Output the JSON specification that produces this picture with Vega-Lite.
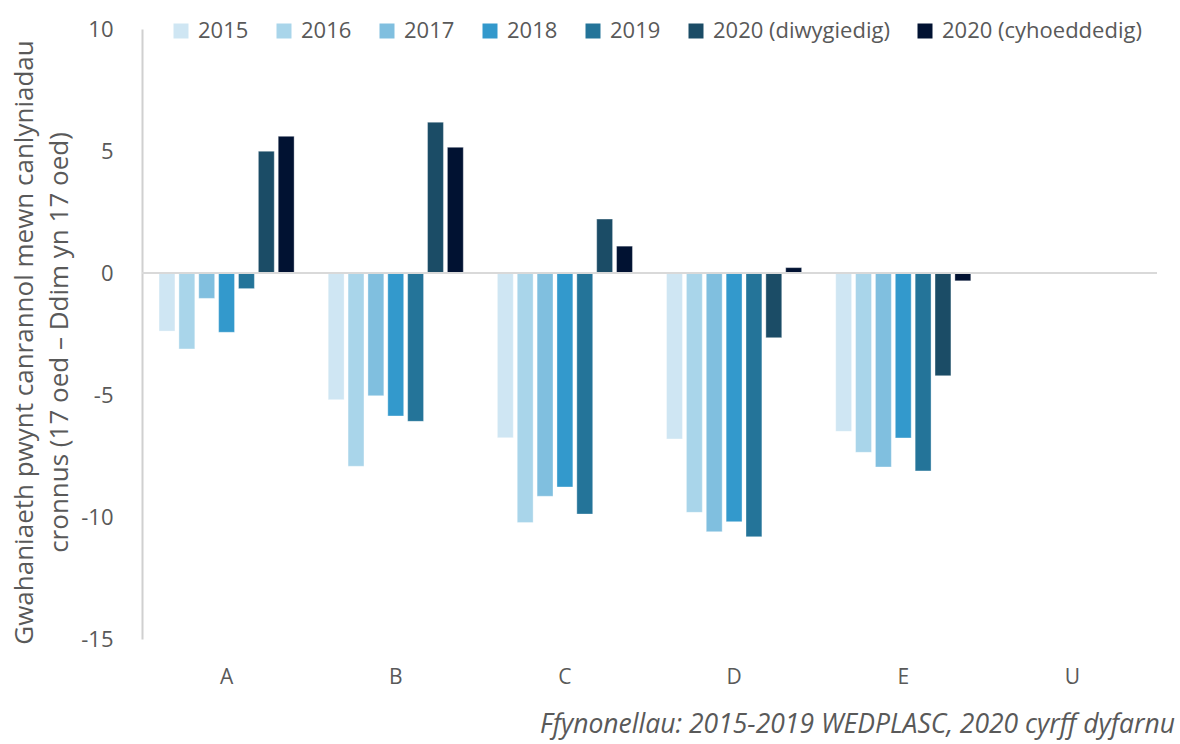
{
  "$schema": "https://vega.github.io/schema/vega-lite/v6.json",
  "autosize": {"type": "none"},
  "width": 1015,
  "height": 610,
  "padding": {"left": 142, "top": 29, "right": 23, "bottom": 105},
  "background": "white",
  "config": {
    "font": "Open Sans",
    "view": {"stroke": null}
  },
  "title": {
    "text": "Ffynonellau: 2015-2019 WEDPLASC, 2020 cyrff dyfarnu",
    "orient": "bottom",
    "anchor": "end",
    "frame": "group",
    "fontSize": 26.5,
    "fontStyle": "italic",
    "fontWeight": "normal",
    "color": "#595959",
    "font": "Open Sans",
    "offset": 25,
    "dx": 18
  },
  "data": {
    "values": [
      {"grade": "A", "series": "2015", "value": -2.38},
      {"grade": "A", "series": "2016", "value": -3.11},
      {"grade": "A", "series": "2017", "value": -1.04},
      {"grade": "A", "series": "2018", "value": -2.43},
      {"grade": "A", "series": "2019", "value": -0.64},
      {"grade": "A", "series": "2020 (diwygiedig)", "value": 4.99},
      {"grade": "A", "series": "2020 (cyhoeddedig)", "value": 5.6},
      {"grade": "B", "series": "2015", "value": -5.19},
      {"grade": "B", "series": "2016", "value": -7.92},
      {"grade": "B", "series": "2017", "value": -5.03},
      {"grade": "B", "series": "2018", "value": -5.86},
      {"grade": "B", "series": "2019", "value": -6.08},
      {"grade": "B", "series": "2020 (diwygiedig)", "value": 6.18},
      {"grade": "B", "series": "2020 (cyhoeddedig)", "value": 5.15},
      {"grade": "C", "series": "2015", "value": -6.75},
      {"grade": "C", "series": "2016", "value": -10.23},
      {"grade": "C", "series": "2017", "value": -9.15},
      {"grade": "C", "series": "2018", "value": -8.77},
      {"grade": "C", "series": "2019", "value": -9.88},
      {"grade": "C", "series": "2020 (diwygiedig)", "value": 2.21},
      {"grade": "C", "series": "2020 (cyhoeddedig)", "value": 1.1},
      {"grade": "D", "series": "2015", "value": -6.8},
      {"grade": "D", "series": "2016", "value": -9.81},
      {"grade": "D", "series": "2017", "value": -10.6},
      {"grade": "D", "series": "2018", "value": -10.19},
      {"grade": "D", "series": "2019", "value": -10.81},
      {"grade": "D", "series": "2020 (diwygiedig)", "value": -2.65},
      {"grade": "D", "series": "2020 (cyhoeddedig)", "value": 0.22},
      {"grade": "E", "series": "2015", "value": -6.49},
      {"grade": "E", "series": "2016", "value": -7.35},
      {"grade": "E", "series": "2017", "value": -7.95},
      {"grade": "E", "series": "2018", "value": -6.76},
      {"grade": "E", "series": "2019", "value": -8.11},
      {"grade": "E", "series": "2020 (diwygiedig)", "value": -4.21},
      {"grade": "E", "series": "2020 (cyhoeddedig)", "value": -0.32}
    ]
  },
  "layer": [
    {
      "mark": {"type": "bar", "stroke": "white", "strokeWidth": 1, "strokeOpacity": 0.35},
      "encoding": {
        "x": {
          "field": "grade",
          "type": "nominal",
          "scale": {"domain": ["A", "B", "C", "D", "E", "U"], "paddingInner": 0.178, "paddingOuter": 0.089},
          "axis": {
            "title": null,
            "labelAngle": 0,
            "domain": false,
            "ticks": false,
            "labelFontSize": 21,
            "labelColor": "#595959",
            "labelPadding": 27,
            "labelFont": "Open Sans"
          }
        },
        "xOffset": {
          "field": "series",
          "type": "nominal",
          "sort": ["2015", "2016", "2017", "2018", "2019", "2020 (diwygiedig)", "2020 (cyhoeddedig)"],
          "scale": {"paddingInner": 0.2, "paddingOuter": 0.1}
        },
        "y": {
          "field": "value",
          "type": "quantitative",
          "scale": {"domain": [-15, 10], "nice": false, "zero": false},
          "axis": {
            "values": [-15, -10, -5, 0, 5, 10],
            "labelExpr": "replace(datum.label, '−', '-')",
            "grid": false,
            "ticks": false,
            "domain": true,
            "domainColor": "#d0d0d0",
            "domainWidth": 2,
            "labelFontSize": 22,
            "labelColor": "#595959",
            "labelPadding": 29,
            "labelFont": "Open Sans",
            "title": ["Gwahaniaeth pwynt canrannol mewn canlyniadau", "cronnus (17 oed – Ddim yn 17 oed)"],
            "titleFontSize": 26,
            "titleFontWeight": "normal",
            "titleColor": "#595959",
            "titleFont": "Open Sans",
            "titleAngle": -90,
            "titleAlign": "center",
            "titleBaseline": "alphabetic",
            "titleLineHeight": 35,
            "titleX": -110,
            "titleY": 313
          }
        },
        "color": {
          "field": "series",
          "type": "nominal",
          "scale": {
            "domain": ["2015", "2016", "2017", "2018", "2019", "2020 (diwygiedig)", "2020 (cyhoeddedig)"],
            "range": ["#cfe6f3", "#a9d5ea", "#80bfdf", "#3399cc", "#247499", "#1b4c66", "#011232"]
          },
          "legend": {
            "title": null,
            "orient": "none",
            "direction": "horizontal",
            "legendX": 28,
            "legendY": -9,
            "symbolType": "square",
            "symbolSize": 225,
            "symbolStrokeWidth": 0,
            "symbolOpacity": 1,
            "labelFontSize": 22,
            "labelColor": "#595959",
            "labelFont": "Open Sans",
            "labelOffset": 6,
            "columnPadding": 24,
            "labelLimit": 400
          }
        }
      }
    },
    {
      "mark": {"type": "rule", "color": "#d9d9d9", "strokeWidth": 2},
      "encoding": {"y": {"datum": 0}}
    }
  ]
}
